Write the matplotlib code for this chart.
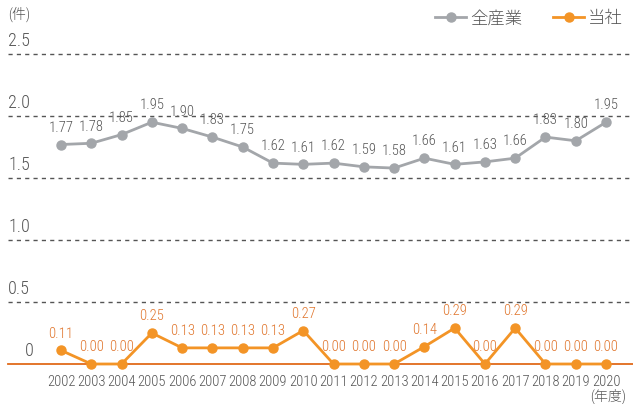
import matplotlib.pyplot as plt

plt.rcParams['font.family'] = ['Roboto Condensed', 'Noto Sans CJK JP', 'DejaVu Sans']
plt.rcParams['font.weight'] = 'light'

years = list(range(2002, 2021))
all_industry = [1.77, 1.78, 1.85, 1.95, 1.90, 1.83, 1.75, 1.62, 1.61, 1.62,
                1.59, 1.58, 1.66, 1.61, 1.63, 1.66, 1.83, 1.80, 1.95]
company = [0.11, 0.00, 0.00, 0.25, 0.13, 0.13, 0.13, 0.13, 0.27, 0.00,
           0.00, 0.00, 0.14, 0.29, 0.00, 0.29, 0.00, 0.00, 0.00]
y_ticks = [0.5, 1.0, 1.5, 2.0, 2.5]
y_tick_labels = ['0.5', '1.0', '1.5', '2.0', '2.5']

grey = '#a3a6aa'
orange = '#f39426'
orange_text = '#e0752c'
text_col = '#555555'

fig = plt.figure(figsize=(6.33, 4.04), dpi=100)
ax = fig.add_axes([0, 0, 1, 1])
ax.set_xlim(1999.985, 2020.89)
ax.set_ylim(-40 / 124, 364 / 124)
ax.axis('off')

# dashed guide lines with their value written just above, left side
left = 8 / 633
for t, lab in zip(y_ticks, y_tick_labels):
    ax.axhline(t, xmin=left, xmax=1, color='#555555', lw=1, ls=(0, (3, 3)))
    ax.annotate(lab, (left, t), xycoords=('axes fraction', 'data'),
                xytext=(0, 3), textcoords='offset points',
                ha='left', va='bottom', fontsize=13, color=text_col)
ax.axhline(0, xmin=left, xmax=1, color='#e06a1a', lw=1.3)
ax.annotate('0', (left, 0), xycoords=('axes fraction', 'data'),
            xytext=(12, 3), textcoords='offset points',
            ha='left', va='bottom', fontsize=13, color=text_col)

ax.plot(years, all_industry, color=grey, lw=2, marker='o', ms=6.5, label='全産業', zorder=3)
ax.plot(years, company, color=orange, lw=2, marker='o', ms=6.5, label='当社', zorder=3)

for x, v in zip(years, all_industry):
    ax.annotate(f'{v:.2f}', (x, v), xytext=(0, 7), textcoords='offset points',
                ha='center', va='bottom', fontsize=10.5, color=text_col)
for x, v in zip(years, company):
    ax.annotate(f'{v:.2f}', (x, v), xytext=(0, 7), textcoords='offset points',
                ha='center', va='bottom', fontsize=10.5, color=orange_text)

for x in years:
    ax.annotate(str(x), (x, 0), xytext=(0, -8), textcoords='offset points',
                ha='center', va='top', fontsize=10.5, color=text_col)

fig.text(8 / 633, 1 - 14 / 404, '(件)', ha='left', va='center', fontsize=10, color=text_col)
fig.text(590 / 633, 1 - 396 / 404, '(年度)', ha='left', va='center', fontsize=10, color=text_col)

ax.legend(loc='upper right', bbox_to_anchor=(1.0, 1.0), ncol=2, frameon=False,
          fontsize=12.5, handlelength=1.8, handletextpad=0.2, columnspacing=1.8,
          labelcolor=text_col, borderaxespad=0.2)

fig.savefig('out.png', dpi=100)
